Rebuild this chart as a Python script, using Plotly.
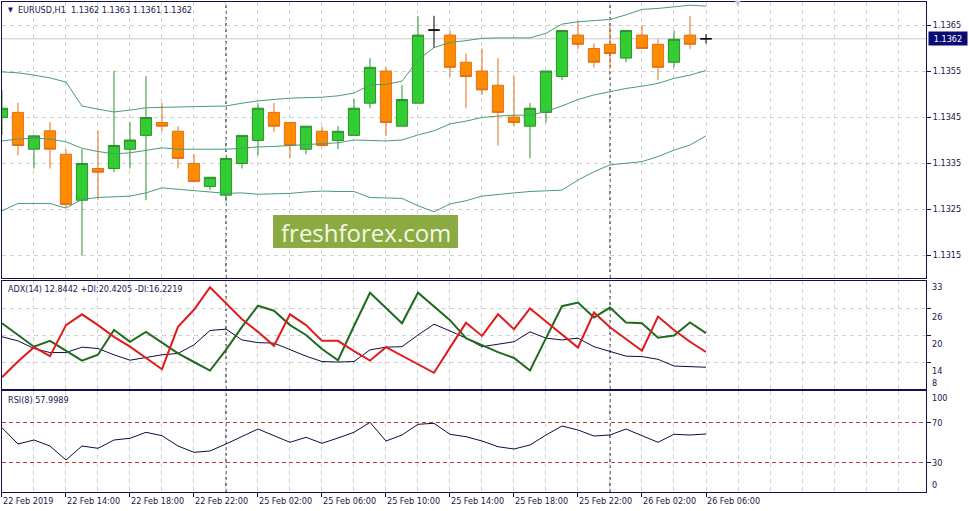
import plotly.graph_objects as go

W, H = 969, 511

# ---------------- data ----------------
bars = list(range(45))  # hourly bars, 22 Feb 10:00 .. 26 Feb 06:00 (weekend skipped)
time_labels = ["22 Feb 2019", "22 Feb 14:00", "22 Feb 18:00", "22 Feb 22:00",
               "25 Feb 02:00", "25 Feb 06:00", "25 Feb 10:00", "25 Feb 14:00",
               "25 Feb 18:00", "25 Feb 22:00", "26 Feb 02:00", "26 Feb 06:00"]
label_bars = [0, 4, 8, 12, 16, 20, 24, 28, 32, 36, 40, 44]
separator_bars = [14, 38]

opens = [1.13449, 1.13460, 1.13380, 1.13420, 1.13369, 1.13269, 1.13338, 1.13338, 1.13380, 1.13410,
         1.13438, 1.13419, 1.13349, 1.13299, 1.13280, 1.13349, 1.13399, 1.13460, 1.13438, 1.13380,
         1.13419, 1.13399, 1.13410, 1.13480, 1.13550, 1.13430, 1.13480, 1.13639, 1.13628, 1.13569,
         1.13550, 1.13519, 1.13450, 1.13430, 1.13460, 1.13538, 1.13628, 1.13599, 1.13608, 1.13578,
         1.13628, 1.13608, 1.13569, 1.13628, 1.13620]
highs = [1.13509, 1.13481, 1.13411, 1.13439, 1.13380, 1.13380, 1.13420, 1.13550, 1.13439, 1.13539,
         1.13481, 1.13430, 1.13369, 1.13319, 1.13360, 1.13410, 1.13480, 1.13480, 1.13438, 1.13430,
         1.13429, 1.13430, 1.13489, 1.13578, 1.13558, 1.13519, 1.13670, 1.13670, 1.13638, 1.13588,
         1.13599, 1.13578, 1.13539, 1.13480, 1.13550, 1.13638, 1.13659, 1.13610, 1.13649, 1.13638,
         1.13649, 1.13619, 1.13638, 1.13670, 1.13630]
lows = [1.13411, 1.13367, 1.13338, 1.13338, 1.13252, 1.13149, 1.13269, 1.13330, 1.13338, 1.13269,
        1.13419, 1.13338, 1.13307, 1.13291, 1.13266, 1.13338, 1.13367, 1.13418, 1.13360, 1.13369,
        1.13388, 1.13380, 1.13410, 1.13469, 1.13409, 1.13430, 1.13480, 1.13600, 1.13538, 1.13469,
        1.13498, 1.13388, 1.13429, 1.13360, 1.13438, 1.13530, 1.13598, 1.13558, 1.13556, 1.13569,
        1.13599, 1.13530, 1.13558, 1.13598, 1.13610]
closes = [1.13469, 1.13388, 1.13409, 1.13380, 1.13260, 1.13349, 1.13330, 1.13388, 1.13400, 1.13449,
          1.13430, 1.13360, 1.13310, 1.13319, 1.13360, 1.13410, 1.13469, 1.13430, 1.13388, 1.13430,
          1.13388, 1.13419, 1.13469, 1.13558, 1.13438, 1.13488, 1.13628, 1.13639, 1.13558, 1.13538,
          1.13509, 1.13460, 1.13438, 1.13469, 1.13550, 1.13638, 1.13608, 1.13569, 1.13588, 1.13638,
          1.13599, 1.13558, 1.13619, 1.13608, 1.13620]

bb_upper = [1.13548, 1.13546, 1.13541, 1.13535, 1.13526, 1.13474, 1.13467, 1.13461, 1.13465, 1.13470,
            1.13471, 1.13472, 1.13472, 1.13473, 1.13474, 1.13480, 1.13485, 1.13488, 1.13491, 1.13492,
            1.13493, 1.13496, 1.13502, 1.13520, 1.13521, 1.13528, 1.13574, 1.13601, 1.13612, 1.13616,
            1.13621, 1.13622, 1.13622, 1.13622, 1.13632, 1.13652, 1.13657, 1.13660, 1.13662, 1.13672,
            1.13684, 1.13686, 1.13690, 1.13693, 1.13691]
bb_middle = [1.13398, 1.13402, 1.13404, 1.13402, 1.13396, 1.13382, 1.13375, 1.13370, 1.13372, 1.13377,
             1.13383, 1.13380, 1.13380, 1.13380, 1.13380, 1.13382, 1.13385, 1.13386, 1.13388, 1.13389,
             1.13391, 1.13394, 1.13400, 1.13399, 1.13398, 1.13400, 1.13411, 1.13420, 1.13435, 1.13441,
             1.13449, 1.13452, 1.13454, 1.13454, 1.13462, 1.13474, 1.13488, 1.13498, 1.13505, 1.13512,
             1.13517, 1.13523, 1.13534, 1.13541, 1.13551]
bb_lower = [1.13246, 1.13262, 1.13262, 1.13262, 1.13252, 1.13271, 1.13275, 1.13277, 1.13278, 1.13285,
            1.13296, 1.13293, 1.13290, 1.13286, 1.13284, 1.13285, 1.13282, 1.13283, 1.13284, 1.13287,
            1.13289, 1.13288, 1.13288, 1.13275, 1.13274, 1.13273, 1.13257, 1.13244, 1.13261, 1.13268,
            1.13278, 1.13282, 1.13285, 1.13288, 1.13290, 1.13291, 1.13313, 1.13331, 1.13346, 1.13350,
            1.13353, 1.13364, 1.13378, 1.13389, 1.13409]

adx = [19.6, 18.7, 17.0, 16.1, 16.1, 17.3, 17.0, 15.6, 14.4, 15.0,
       15.6, 15.9, 17.8, 21.0, 21.3, 18.9, 18.3, 18.2, 16.7, 15.3,
       14.1, 14.0, 14.1, 16.7, 17.3, 17.4, 20.0, 22.4, 20.9, 19.3,
       17.4, 18.0, 18.5, 20.7, 19.3, 18.9, 19.3, 17.4, 16.3, 15.3,
       15.2, 14.6, 13.1, 13.0, 12.84]
plus_di = [22.6, 20.0, 17.4, 18.7, 16.5, 14.3, 15.6, 21.1, 18.5, 20.7,
           18.3, 15.9, 14.0, 12.1, 16.7, 21.8, 26.5, 25.4, 22.2, 20.0,
           16.9, 14.4, 22.0, 29.4, 26.0, 22.6, 29.4, 26.4, 23.3, 19.3,
           17.8, 16.2, 14.9, 12.1, 19.3, 26.4, 27.2, 23.9, 26.1, 22.8,
           22.6, 19.4, 19.9, 22.8, 20.42]
minus_di = [10.6, 14.1, 17.3, 15.3, 22.2, 24.6, 22.2, 19.6, 17.4, 15.0,
            12.4, 21.8, 25.6, 30.6, 27.0, 23.5, 20.7, 17.6, 24.6, 22.2,
            18.7, 18.7, 16.4, 14.3, 17.3, 15.4, 13.6, 11.6, 17.2, 22.7,
            19.8, 24.6, 21.3, 25.9, 23.0, 20.1, 17.2, 25.0, 21.7, 19.1,
            16.5, 24.1, 21.1, 18.5, 16.22]
rsi = [64.3, 48, 52, 46, 32, 46, 43.7, 52, 53.7, 59.7,
       56.3, 46, 39.7, 41, 48, 55.3, 63, 56.3, 49.7, 54.7,
       48.7, 54, 59.7, 69.7, 51, 57, 67.7, 68.7, 57.7, 55.3,
       51, 45.3, 43, 47, 57, 66, 62, 56, 57, 63,
       56.3, 49.7, 57.7, 57, 58.0]

price_ticks = [1.1315, 1.1325, 1.1335, 1.1345, 1.1355, 1.1365]
price_tick_text = ["1.1315", "1.1325", "1.1335", "1.1345", "1.1355", "1.1365"]
adx_ticks = [14, 20, 26]
adx_scale_labels = ["33", "26", "20", "14", "8"]
rsi_levels = [30, 70]
rsi_scale_labels = ["100", "70", "30", "0"]
current_price = 1.1362
header = "EURUSD,H1\u00a0 1.1362 1.1363 1.1361 1.1362"
adx_header = "ADX(14) 12.8442 +DI:20.4205 -DI:16.2219"
rsi_header = "RSI(8) 57.9989"
watermark = "freshforex.com"

# ---------------- styling ----------------
FONT = "DejaVu Sans Condensed, Liberation Sans, Arial, sans-serif"
TXT = "#15154d"
BORDER = "#12124a"
GRID = "#cfcfcf"
GRID_DASH = "4px,4px"
BULL_LINE, BULL_FILL = "#2f8f2f", "#32cd32"
BEAR_LINE, BEAR_FILL = "#e0701c", "#ff8c00"
BAND = "#4a9c74"


def px(p):
    return p / W


def py(p):
    return 1 - p / H


XDOM = [px(1.5), px(926)]
XR = [-0.03, 57.75]
YR_MAIN = [1.1310, 1.1370]
YR_ADX = [8, 32]
YR_RSI = [0, 101]
Y_MAIN = [py(278), py(2)]
Y_ADX = [py(389), py(281)]
Y_RSI = [py(492), py(391)]

fig = go.Figure()


def candles(idx, lc, fc):
    return go.Candlestick(
        x=idx,
        open=[opens[i] for i in idx], high=[highs[i] for i in idx],
        low=[lows[i] for i in idx], close=[closes[i] for i in idx],
        increasing=dict(line=dict(color=lc, width=1), fillcolor=fc),
        decreasing=dict(line=dict(color=lc, width=1), fillcolor=fc),
        whiskerwidth=0, showlegend=False, hoverinfo="skip",
        xaxis="x", yaxis="y")


bull = [i for i in bars if closes[i] > opens[i]]
bear = [i for i in bars if closes[i] < opens[i]]
doji = [i for i in bars if closes[i] == opens[i]]
fig.add_trace(candles(bull, BULL_LINE, BULL_FILL))
fig.add_trace(candles(bear, BEAR_LINE, BEAR_FILL))
fig.add_trace(candles(doji, "#000000", "#000000"))

for band in (bb_upper, bb_middle, bb_lower):
    fig.add_trace(go.Scatter(x=bars, y=band, mode="lines", line=dict(color=BAND, width=1),
                             showlegend=False, hoverinfo="skip", xaxis="x", yaxis="y"))

fig.add_trace(go.Scatter(x=bars, y=adx, mode="lines", line=dict(color="#0c0c40", width=1),
                         showlegend=False, hoverinfo="skip", xaxis="x2", yaxis="y2"))
fig.add_trace(go.Scatter(x=bars, y=plus_di, mode="lines", line=dict(color="#1f6b1f", width=2),
                         showlegend=False, hoverinfo="skip", xaxis="x2", yaxis="y2"))
fig.add_trace(go.Scatter(x=bars, y=minus_di, mode="lines", line=dict(color="#e01b1b", width=2),
                         showlegend=False, hoverinfo="skip", xaxis="x2", yaxis="y2"))
fig.add_trace(go.Scatter(x=bars, y=rsi, mode="lines", line=dict(color="#0c0c40", width=1),
                         showlegend=False, hoverinfo="skip", xaxis="x3", yaxis="y3"))

common_x = dict(domain=XDOM, range=XR, showline=True, mirror=True, linecolor=BORDER, linewidth=1,
                zeroline=False, showticklabels=False, fixedrange=True,
                showgrid=True, gridcolor=GRID, griddash=GRID_DASH, gridwidth=1)
common_y = dict(showline=True, mirror=True, linecolor=BORDER, linewidth=1, zeroline=False,
                fixedrange=True, side="right", ticks="outside", ticklen=4, tickcolor=BORDER,
                showgrid=True, gridcolor=GRID, griddash=GRID_DASH, gridwidth=1)

fig.update_layout(
    width=W, height=H, margin=dict(l=0, r=0, t=0, b=0),
    paper_bgcolor="white", plot_bgcolor="white", showlegend=False,
    boxgap=0.3, boxgroupgap=0,
    font=dict(family=FONT, size=9, color=TXT),
    xaxis=dict(common_x, anchor="y", tickmode="array", tickvals=list(range(0, 58, 2)), ticks="",
               rangeslider=dict(visible=False)),
    xaxis2=dict(common_x, anchor="y2", tickmode="array", tickvals=list(range(0, 58, 2)), ticks=""),
    xaxis3=dict(common_x, anchor="y3", tickmode="array", tickvals=label_bars,
                ticks="outside", ticklen=4, tickcolor=BORDER,
                minor=dict(tick0=0, dtick=2, showgrid=True, gridcolor=GRID, griddash=GRID_DASH,
                           ticks="")),
    yaxis=dict(common_y, anchor="x", domain=Y_MAIN, range=YR_MAIN, tickmode="array",
               tickvals=price_ticks, ticktext=price_tick_text, showticklabels=True,
               tickfont=dict(size=9, color=TXT, family=FONT)),
    yaxis2=dict(common_y, anchor="x2", domain=Y_ADX, range=YR_ADX, tickmode="array",
                tickvals=adx_ticks, showticklabels=False),
    yaxis3=dict(common_y, anchor="x3", domain=Y_RSI, range=YR_RSI, tickmode="array",
                tickvals=rsi_levels, showticklabels=False, gridcolor="#c83a3a", griddash="4px,3px"),
)

shapes = []
# current price line (beneath the candles)
shapes.append(dict(type="line", xref="x domain", yref="y", x0=0, x1=1, y0=current_price, y1=current_price,
                   line=dict(color="#c8c8c8", width=1), layer="below"))
# period separators in each pane (beneath the candles)
for b in separator_bars:
    for xr, yr in (("x", "y domain"), ("x2", "y2 domain"), ("x3", "y3 domain")):
        shapes.append(dict(type="line", xref=xr, yref=yr, x0=b, x1=b, y0=0, y1=1,
                           line=dict(color="#000000", width=1, dash="3px,3px"), layer="below"))
# watermark box
shapes.append(dict(type="rect", xref="paper", yref="paper", x0=px(273), x1=px(458), y0=py(248), y1=py(215),
                   fillcolor="#8bab42", line=dict(width=0), layer="above"))
fig.update_layout(shapes=shapes)

ann = []
ann.append(dict(x=px(6), y=py(10), xref="paper", yref="paper", text="▼", showarrow=False,
                xanchor="left", yanchor="middle", font=dict(size=7, color="#1a1a6e")))
ann.append(dict(x=px(16), y=py(10), xref="paper", yref="paper", text=header, showarrow=False,
                xanchor="left", yanchor="middle", font=dict(size=9, color=TXT, family=FONT)))
ann.append(dict(x=px(6), y=py(289), xref="paper", yref="paper", text=adx_header, showarrow=False,
                xanchor="left", yanchor="middle", font=dict(size=9, color=TXT, family=FONT)))
ann.append(dict(x=px(6), y=py(400), xref="paper", yref="paper", text=rsi_header, showarrow=False,
                xanchor="left", yanchor="middle", font=dict(size=9, color=TXT, family=FONT)))
# ADX scale labels
for txt, val, shift in zip(adx_scale_labels, [32, 26, 20, 14, 8], [-6, -9, -9, -9, 6]):
    ann.append(dict(x=px(930), y=val, xref="paper", yref="y2", yshift=shift, text=txt, showarrow=False,
                    xanchor="left", yanchor="middle", font=dict(size=9, color=TXT, family=FONT)))
# RSI scale labels
for txt, val, shift in zip(rsi_scale_labels, [101, 70, 30, 0], [-7, -1, -1, 7]):
    ann.append(dict(x=px(930), y=val, xref="paper", yref="y3", yshift=shift, text=txt, showarrow=False,
                    xanchor="left", yanchor="middle", font=dict(size=9, color=TXT, family=FONT)))
# time labels
for b, txt in zip(label_bars, time_labels):
    ann.append(dict(x=b, y=py(501), xref="x3", yref="paper", text=txt, showarrow=False,
                    xanchor="left", yanchor="middle", xshift=-1,
                    font=dict(size=9, color=TXT, family=FONT)))
# current price tag
ann.append(dict(x=px(928), y=current_price, xref="paper", yref="y", text="1.1362", showarrow=False,
                xanchor="left", yanchor="middle", bgcolor="#0a0a74", width=36, height=11,
                font=dict(size=9, color="white", family=FONT)))
# watermark text
ann.append(dict(x=px(365.5), y=py(232), xref="paper", yref="paper", text=watermark, showarrow=False,
                xanchor="center", yanchor="middle",
                font=dict(size=24, color="#f3f7e6", family="Open Sans, sans-serif")))
# chart shift marker
ann.append(dict(x=px(738), y=py(3), xref="paper", yref="paper", text="▼", showarrow=False,
                xanchor="center", yanchor="middle", font=dict(size=8, color="#c8c8c8")))
fig.update_layout(annotations=ann)

fig.write_html("out.html", config={"displayModeBar": False},
               post_script="document.body.style.margin='0px';document.body.style.overflow='hidden';")
